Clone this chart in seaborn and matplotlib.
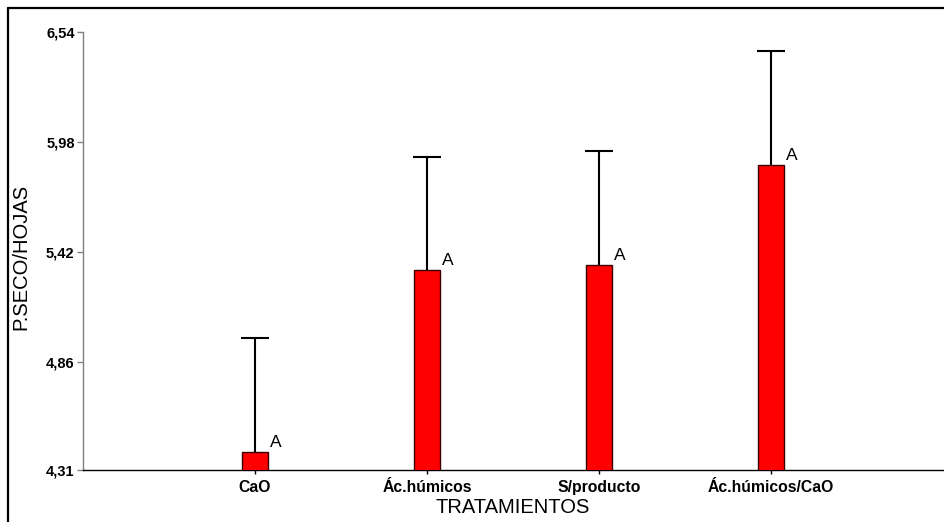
import matplotlib
matplotlib.use("Agg")
import matplotlib.pyplot as plt
from matplotlib.lines import Line2D
import seaborn as sns
import pandas as pd
import numpy as np

categories = ["CaO", "Ác.húmicos", "S/producto", "Ác.húmicos/CaO"]
means = [4.40, 5.33, 5.355, 5.865]
err_upper = [0.58, 0.575, 0.58, 0.58]
letters = ["A", "A", "A", "A"]
yticks = [4.31, 4.86, 5.42, 5.98, 6.54]
ytick_labels = ["4,31", "4,86", "5,42", "5,98", "6,54"]

sns.set_theme(style="white")
plt.rcParams["font.family"] = ["Liberation Sans", "DejaVu Sans"]
plt.rcParams["text.color"] = "black"
plt.rcParams["axes.labelcolor"] = "black"

W, H = 945, 522
fig = plt.figure(figsize=(W / 100, H / 100), dpi=100)
ax = fig.add_axes([83 / W, 1 - 470 / H, (943 - 83) / W, (470 - 32) / H])

df = pd.DataFrame({"trat": categories, "val": means})
sns.barplot(data=df, x="trat", y="val", order=categories, color="#ff0000",
            width=0.155, edgecolor="#3a0000", linewidth=1.0, errorbar=None,
            ax=ax, zorder=3, saturation=1)

x = np.arange(len(categories))
eb = ax.errorbar(x, means, yerr=[np.zeros(len(means)), err_upper], fmt="none",
                 ecolor="black", elinewidth=1.5, capsize=10, capthick=1.5,
                 zorder=2, clip_on=False)
eb[1][0].set_visible(False)

for xi, m, lt in zip(x, means, letters):
    ax.text(xi + 0.085, m + 0.025, lt, ha="left", va="baseline",
            fontsize=12.5, color="black", zorder=4)

ax.set_xlim(-1.0, 4.0)
ax.set_ylim(4.31, 6.54)
ax.set_yticks(yticks)
ax.set_yticklabels(ytick_labels, fontsize=10.5, fontweight="bold")
ax.set_xticks(x)
ax.set_xticklabels(categories, fontsize=11.3, fontweight="bold")

for s in ["top", "right"]:
    ax.spines[s].set_visible(False)
ax.spines["left"].set_color("#808080")
ax.spines["left"].set_linewidth(1.0)
ax.spines["bottom"].set_color("black")
ax.spines["bottom"].set_linewidth(1.0)

ax.tick_params(axis="y", which="major", left=True, length=4, width=1,
               color="#808080", pad=2, labelcolor="black")
ax.tick_params(axis="x", which="major", bottom=True, length=3, width=1,
               color="black", pad=4, labelcolor="black")

ax.set_xlabel("TRATAMIENTOS", fontsize=14.5, color="black")
ax.set_ylabel("P.SECO/HOJAS", fontsize=14.5, color="black")
ax.xaxis.set_label_coords(0.5, -0.064)
ax.yaxis.set_label_coords(-0.0615, 0.486)

fig.add_artist(Line2D([8 / W, 8 / W], [0, 1 - 8 / H], transform=fig.transFigure,
                      color="black", linewidth=1.6))
fig.add_artist(Line2D([8 / W, 1], [1 - 8 / H, 1 - 8 / H], transform=fig.transFigure,
                      color="black", linewidth=1.6))

fig.savefig("out.png", dpi=100)
